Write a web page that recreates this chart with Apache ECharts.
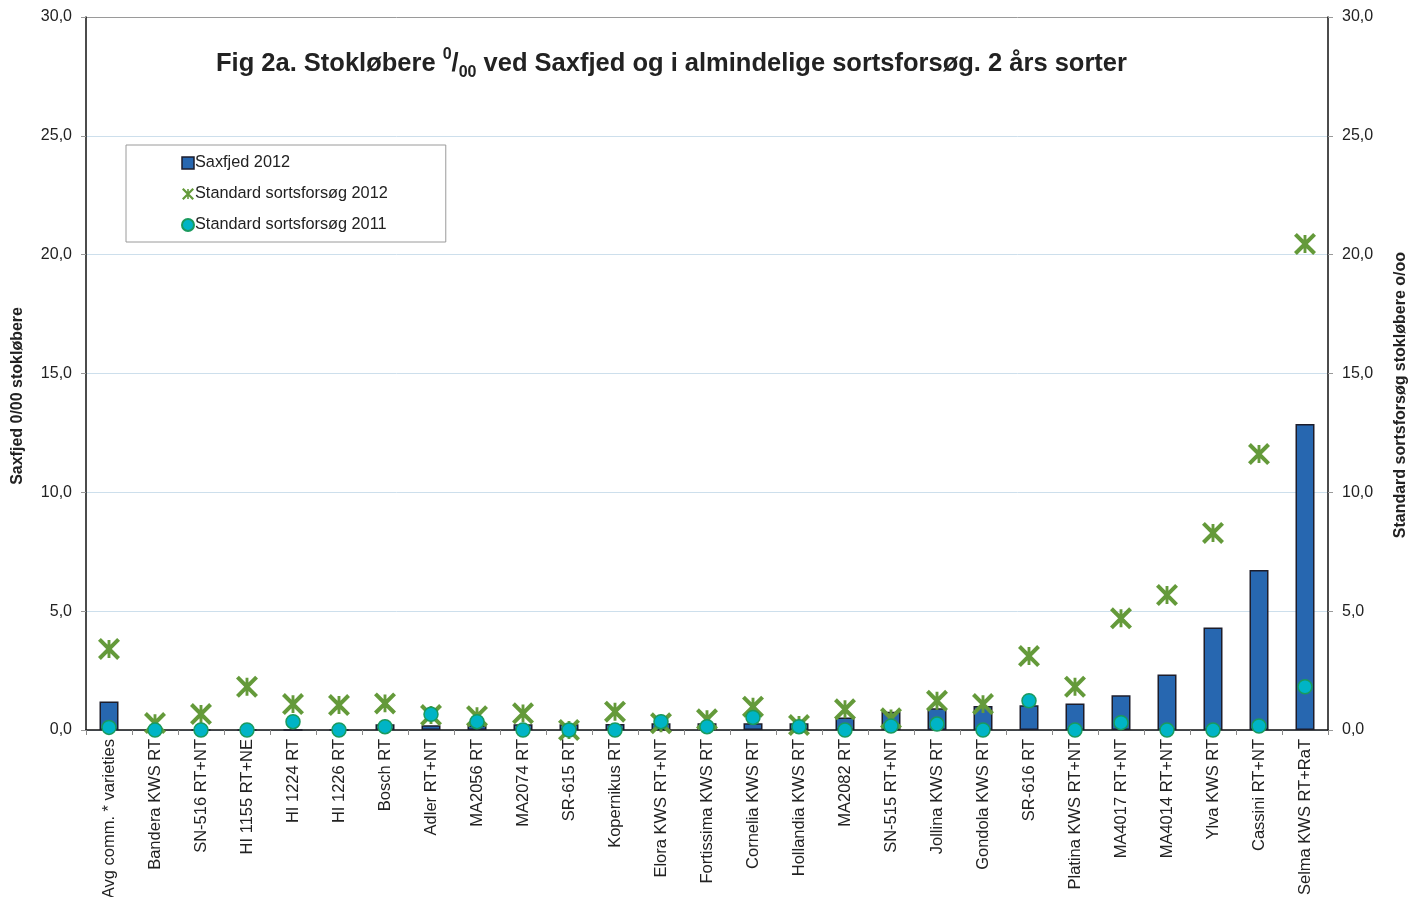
<!DOCTYPE html>
<html>
<head>
<meta charset="utf-8">
<script src="https://cdn.jsdelivr.net/npm/echarts@6/dist/echarts.min.js"></script>
<style>
html,body{margin:0;padding:0;background:#fff;}
#chart{width:1423px;height:897px;}
</style>
</head>
<body>
<div id="chart"></div>
<script>
const categories = [
  'Avg comm. * varieties','Bandera KWS RT','SN-516 RT+NT','HI 1155 RT+NE','HI 1224 RT','HI 1226 RT',
  'Bosch RT','Adler RT+NT','MA2056 RT','MA2074 RT','SR-615 RT','Kopernikus RT','Elora KWS RT+NT',
  'Fortissima KWS RT','Cornelia KWS RT','Hollandia KWS RT','MA2082 RT','SN-515 RT+NT','Jollina KWS RT',
  'Gondola KWS RT','SR-616 RT','Platina KWS RT+NT','MA4017 RT+NT','MA4014 RT+NT','Ylva KWS RT',
  'Cassini RT+NT','Selma KWS RT+RaT'
];
const saxfjed2012 = [1.2,0,0,0,0,0,0.24,0.2,0.2,0.24,0.24,0.25,0.28,0.28,0.28,0.28,0.53,0.77,0.91,1.01,1.04,1.12,1.46,2.34,4.31,6.73,12.87];
const standard2012 = [3.41,0.29,0.67,1.82,1.09,1.05,1.12,0.63,0.58,0.7,0,0.77,0.28,0.45,0.98,0.21,0.87,0.49,1.23,1.09,3.11,1.82,4.70,5.68,8.29,11.61,20.45];
const standard2011 = [0.11,0,0,0,0.35,0,0.14,0.66,0.35,0,0,0,0.35,0.14,0.53,0.14,0,0.17,0.25,0,1.23,0,0.31,0,0,0.17,1.82];
const yTicks = {min:0, max:30, interval:5};
const leftAxisName = 'Saxfjed 0/00 stokløbere';
const rightAxisName = 'Standard sortsforsøg stokløbere o/oo';

const FONT = '"Liberation Sans", Arial, Helvetica, sans-serif';
const xSymbol = 'path://M0.8,3.2L3.2,0.8L19.2,16.8L16.8,19.2Z M16.8,0.8L19.2,3.2L3.2,19.2L0.8,16.8Z M8.8,2.5L11.2,2.5L11.2,17.5L8.8,17.5Z';
const fmt = v => v.toFixed(1).replace('.', ',');
const gridColors = ['#cddfec','#cddfec','#cddfec','#cddfec','#cddfec','#cddfec','#9a9a9a'];

const chart = echarts.init(document.getElementById('chart'), null, {renderer:'canvas'});
chart.setOption({
  animation:false,
  backgroundColor:'#ffffff',
  textStyle:{fontFamily:FONT},
  title:{
    text:'{b|Fig 2a. Stokløbere }{sup|0}{b|/}{sub|00}{b| ved Saxfjed og i almindelige sortsforsøg. 2 års sorter}',
    left:211,
    top:42,
    textStyle:{
      rich:{
        b:{fontSize:25.5,fontWeight:'bold',color:'#222',fontFamily:FONT,lineHeight:34,verticalAlign:'middle'},
        sup:{fontSize:16,fontWeight:'bold',color:'#222',fontFamily:FONT,verticalAlign:'top',lineHeight:34},
        sub:{fontSize:16,fontWeight:'bold',color:'#222',fontFamily:FONT,verticalAlign:'bottom',lineHeight:27}
      }
    }
  },
  legend:{
    orient:'vertical',
    left:126,
    top:145,
    padding:[10,58,9,55],
    borderColor:'#9a9a9a',
    borderWidth:1,
    itemGap:15,
    itemWidth:12,
    itemHeight:12,
    textStyle:{fontSize:16.3,color:'#222',fontFamily:FONT,padding:[0,0,0,-4]},
    data:[
      {name:'Saxfjed 2012',icon:'rect',itemStyle:{borderColor:'#1d1d2b',borderWidth:1.5}},
      {name:'Standard sortsforsøg 2012',icon:xSymbol},
      {name:'Standard sortsforsøg 2011',icon:'circle'}
    ]
  },
  graphic:[
    {type:'text',left:10,top:307,rotation:Math.PI/2,
      style:{text:leftAxisName,font:'bold 16px '+FONT,fill:'#222'}},
    {type:'text',left:1393,top:252,rotation:Math.PI/2,
      style:{text:rightAxisName,font:'bold 16px '+FONT,fill:'#222'}}
  ],
  grid:{left:86,right:95,top:17,bottom:167,containLabel:false,outerBoundsMode:'none'},
  xAxis:{
    type:'category',
    data:categories,
    boundaryGap:true,
    axisLine:{lineStyle:{color:'#111',width:1.5}},
    axisTick:{show:true,alignWithLabel:false,length:5,lineStyle:{color:'#888'}},
    axisLabel:{rotate:90,interval:0,fontSize:16.5,color:'#222',margin:9,fontFamily:FONT}
  },
  yAxis:[
    {
      type:'value',min:yTicks.min,max:yTicks.max,interval:yTicks.interval,position:'left',
      axisLine:{show:true,lineStyle:{color:'#111',width:1.5}},
      axisTick:{show:true,length:5,lineStyle:{color:'#999'}},
      axisLabel:{formatter:fmt,fontSize:16,color:'#222',margin:14,fontFamily:FONT},
      splitLine:{show:true,lineStyle:{color:gridColors,width:1}}
    },
    {
      type:'value',min:yTicks.min,max:yTicks.max,interval:yTicks.interval,position:'right',
      axisLine:{show:true,lineStyle:{color:'#111',width:1.5}},
      axisTick:{show:true,length:5,lineStyle:{color:'#999'}},
      axisLabel:{formatter:fmt,fontSize:16,color:'#222',margin:14,fontFamily:FONT},
      splitLine:{show:false}
    }
  ],
  series:[
    {
      name:'Saxfjed 2012',type:'bar',yAxisIndex:0,data:saxfjed2012,barWidth:19,
      itemStyle:{color:'#2767b0',borderColor:'#1d1d2b',borderWidth:1.5},z:2
    },
    {
      name:'Standard sortsforsøg 2012',type:'scatter',yAxisIndex:1,data:standard2012,
      symbol:xSymbol,symbolSize:22,itemStyle:{color:'#649a3a',opacity:1},z:3
    },
    {
      name:'Standard sortsforsøg 2011',type:'scatter',yAxisIndex:1,data:standard2011,
      symbol:'circle',symbolSize:14,itemStyle:{color:'#00b4c6',borderColor:'#1a9a5e',borderWidth:1.5,opacity:1},z:4
    }
  ]
});
</script>
</body>
</html>
